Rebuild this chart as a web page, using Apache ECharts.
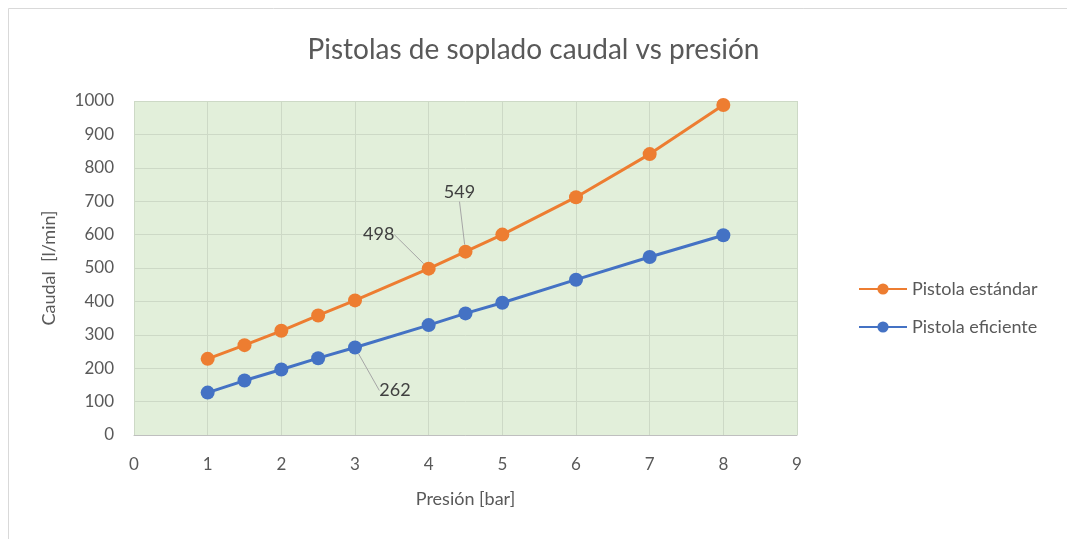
<!DOCTYPE html>
<html lang="es">
<head>
    <meta charset="UTF-8">
    <title>Pistolas de soplado caudal vs presión</title>
    <script src="https://cdn.jsdelivr.net/npm/echarts@6/dist/echarts.min.js"></script>
    <style>
        html, body { margin: 0; padding: 0; background: #fff; }
        #chart { width: 1067px; height: 539px; }
    </style>
</head>
<body>
<div id="chart"></div>
<script>
    // presión [bar]
    var presion = [1, 1.5, 2, 2.5, 3, 4, 4.5, 5, 6, 7, 8];
    // caudal [l/min]
    var estandar = [228, 269, 312, 358, 403, 498, 549, 600, 712, 841, 988];
    var eficiente = [127, 163, 196, 230, 262, 329, 364, 396, 465, 533, 598];
    var nombres = ["Pistola estándar", "Pistola eficiente"];

    // desplazamiento de las etiquetas con línea guía
    var etiquetas = {
        0: { 5: [-50, -34], 6: [-6, -59] },
        1: { 4: [40, 43] }
    };

    function pares(ys, s) {
        var out = [];
        for (var i = 0; i < presion.length; i++) {
            var item = { value: [presion[i], ys[i]] };
            if (etiquetas[s][i]) {
                item.label = { show: true, position: 'inside' };
            }
            out.push(item);
        }
        return out;
    }

    var txt = '#595959';
    var chart = echarts.init(document.getElementById('chart'));

    function serie(nombre, ys, s, color) {
        return {
            name: nombre,
            type: 'line',
            data: pares(ys, s),
            symbol: 'circle',
            symbolSize: 14,
            color: color,
            lineStyle: { width: 3, color: color },
            itemStyle: { color: color },
            label: {
                show: false,
                formatter: function (p) { return p.value[1]; },
                color: '#404040',
                fontSize: 18,
                fontFamily: 'Lato'
            },
            labelLine: { show: true, lineStyle: { color: '#a6a6a6', width: 1 } },
            labelLayout: function (p) {
                var d = etiquetas[s][p.dataIndex];
                if (!d) return {};
                return { dx: d[0], dy: d[1] };
            },
            emphasis: { disabled: true },
            animation: false,
            z: 3 - s
        };
    }

    chart.setOption({
        backgroundColor: '#fff',
        textStyle: { fontFamily: 'Lato' },
        graphic: [{
            type: 'rect',
            shape: { x: 8.5, y: 8.5, width: 1070, height: 540 },
            style: { fill: 'none', stroke: '#d9d9d9', lineWidth: 1 },
            silent: true
        }],
        title: {
            text: 'Pistolas de soplado caudal vs presión',
            left: 'center',
            top: 31,
            textStyle: { color: txt, fontSize: 28, fontWeight: 'normal', fontFamily: 'Lato' }
        },
        legend: {
            orient: 'vertical',
            left: 853,
            top: 275,
            itemWidth: 48,
            itemHeight: 14,
            itemGap: 20,
            data: nombres,
            textStyle: { color: txt, fontSize: 18, fontFamily: 'Lato' }
        },
        grid: {
            left: 134, right: 270, top: 101, bottom: 104,
            show: true,
            backgroundColor: '#e2efda',
            borderWidth: 0
        },
        xAxis: {
            type: 'value',
            min: 0, max: 9, interval: 1,
            name: 'Presión [bar]',
            nameLocation: 'middle',
            nameGap: 55,
            nameTextStyle: { color: txt, fontSize: 18 },
            axisLine: { show: true, lineStyle: { color: '#bfbfbf' } },
            axisTick: { show: false },
            axisLabel: { color: txt, fontSize: 17, margin: 21 },
            splitLine: { show: true, lineStyle: { color: '#cdd9c6' } }
        },
        yAxis: {
            type: 'value',
            min: 0, max: 1000, interval: 100,
            name: 'Caudal  [l/min]',
            nameLocation: 'middle',
            nameGap: 76,
            nameTextStyle: { color: txt, fontSize: 18 },
            axisLine: { show: false },
            axisTick: { show: false },
            axisLabel: { color: txt, fontSize: 17, margin: 20, formatter: function (v) { return String(v); } },
            splitLine: { show: true, lineStyle: { color: '#cdd9c6' } }
        },
        series: [
            serie(nombres[0], estandar, 0, '#ed7d31'),
            serie(nombres[1], eficiente, 1, '#4472c4')
        ]
    });
</script>
</body>
</html>
